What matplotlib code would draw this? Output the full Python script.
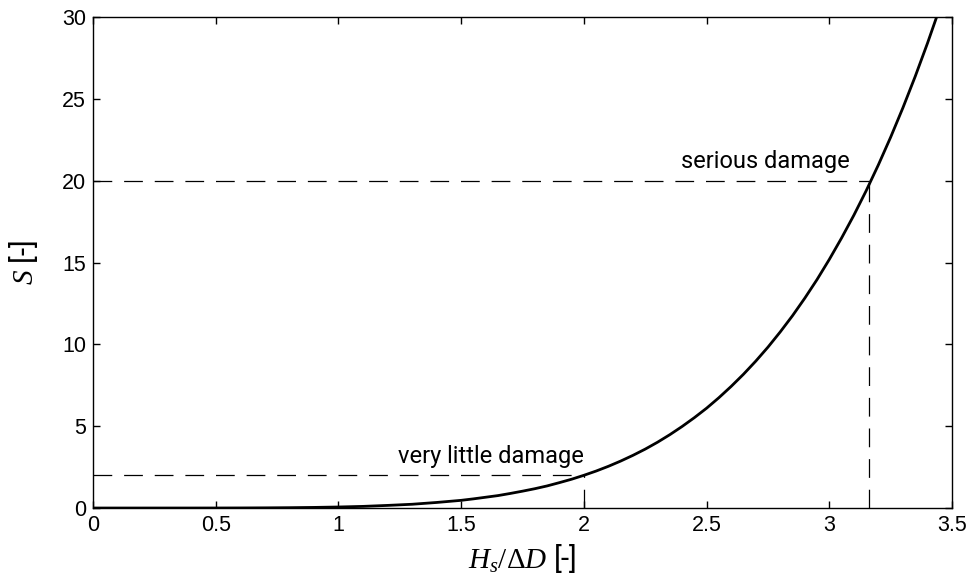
import matplotlib
matplotlib.use("Agg")
import matplotlib.pyplot as plt

# Curve values
x_vals = [0.0, 0.1, 0.2, 0.3, 0.4, 0.5, 0.6, 0.7, 0.8, 0.9, 1.0, 1.1, 1.2, 1.3, 1.4,
          1.5, 1.55, 1.6, 1.65, 1.7, 1.75, 1.8, 1.85, 1.9, 1.95, 2.0, 2.05, 2.1,
          2.15, 2.2, 2.25, 2.3, 2.35, 2.4, 2.45, 2.5, 2.55, 2.6, 2.65, 2.7, 2.75,
          2.8, 2.85, 2.9, 2.95, 3.0, 3.05, 3.1, 3.15, 3.2, 3.25, 3.3, 3.35, 3.4,
          3.45, 3.5]
s_vals = [0.0, 0.0, 0.0, 0.0002, 0.0006, 0.002, 0.005, 0.011, 0.021, 0.037, 0.063,
          0.10, 0.16, 0.23, 0.34, 0.47, 0.56, 0.66, 0.76, 0.89, 1.03, 1.18, 1.35,
          1.55, 1.76, 2.0, 2.26, 2.55, 2.87, 3.22, 3.60, 4.02, 4.48, 4.98, 5.52,
          6.10, 6.74, 7.43, 8.17, 8.97, 9.83, 10.76, 11.75, 12.82, 13.96, 15.19,
          16.50, 17.89, 19.38, 20.97, 22.66, 24.46, 26.37, 28.40, 30.55, 32.83]

# Damage levels
levels_s = [2, 20]
levels_x = [2.0, 3.16]
level_labels = ["very little damage", "serious damage"]
label_x = [1.62, 2.74]

x_ticks = [0, 0.5, 1, 1.5, 2, 2.5, 3, 3.5]
x_ticklabels = ["0", "0.5", "1", "1.5", "2", "2.5", "3", "3.5"]
y_ticks = [0, 5, 10, 15, 20, 25, 30]

plt.rcParams['mathtext.fontset'] = 'custom'
plt.rcParams['mathtext.it'] = 'Liberation Serif:italic'
plt.rcParams['mathtext.rm'] = 'Liberation Serif'

fig = plt.figure(figsize=(9.68, 5.81), dpi=100)
ax = fig.add_axes([0.0961, 0.1256, 0.8874, 0.8451])

ax.plot(x_vals, s_vals, color='black', lw=2.0, zorder=3)

for xs, ss, lab, lx in zip(levels_x, levels_s, level_labels, label_x):
    ax.plot([0, xs], [ss, ss], color='black', lw=0.9, dashes=(15, 9.5), zorder=2)
    ax.plot([xs, xs], [0, ss], color='black', lw=0.9, dashes=(15, 9.5), zorder=2)
    ax.text(lx, ss + 0.78, lab, ha='center', va='baseline', fontsize=17,
            family='Roboto')

ax.set_xlim(0, 3.5)
ax.set_ylim(0, 30)
ax.set_xticks(x_ticks)
ax.set_xticklabels(x_ticklabels)
ax.set_yticks(y_ticks)
ax.tick_params(direction='in', top=True, right=True, length=5, width=1,
               labelsize=15.5, pad=5)
for lab in ax.get_xticklabels() + ax.get_yticklabels():
    lab.set_family('Liberation Sans')
for sp in ax.spines.values():
    sp.set_linewidth(1.0)

ax.set_xlabel(r"$H_s/\Delta D$ [-]", fontsize=21, family='Roboto', labelpad=4)
ax.set_ylabel(r"$S$ [-]", fontsize=21, family='Roboto', labelpad=16)

fig.savefig("out.png", dpi=100)
